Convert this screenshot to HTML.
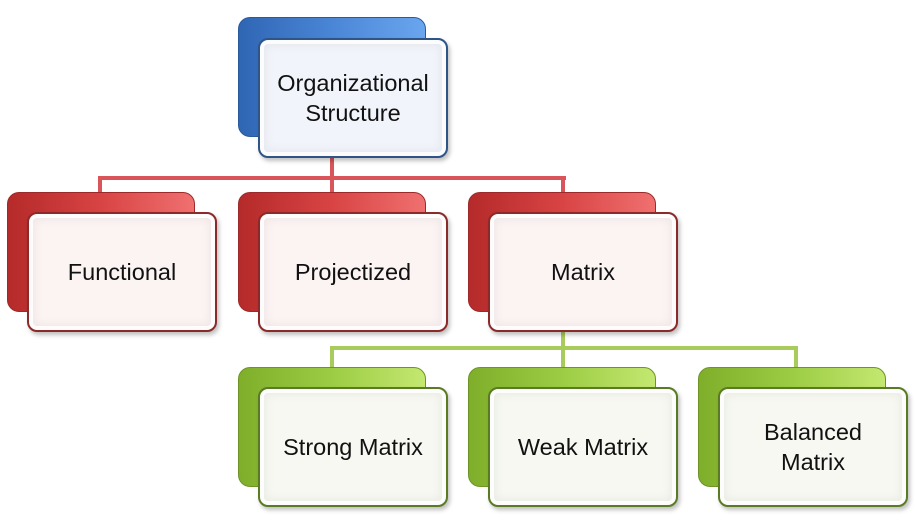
<!DOCTYPE html>
<html><head><style>
body{margin:0;width:916px;height:524px;background:#fff;position:relative;overflow:hidden;font-family:"Liberation Sans",sans-serif}
.b{position:absolute;width:188px;height:120px;border-radius:12px;box-sizing:border-box}
.f{position:absolute;width:190px;height:120px;border-radius:10px;box-sizing:border-box;display:flex;align-items:center;justify-content:center;text-align:center;font-size:23.5px;line-height:30px;color:#111;box-shadow:inset 0 0 0 4px rgba(255,255,255,.85),inset 0 0 10px 5px rgba(0,0,0,.06),2px 3px 4px rgba(0,0,0,.25)}
.blue{background:linear-gradient(90deg,#2f66b4,#4a86d6 50%,#6aa6ee);border:1.5px solid #2a5a9c}
.red{background:linear-gradient(90deg,#b52a2a,#d84444 50%,#f07070);border:1.5px solid #9c2a2a}
.green{background:linear-gradient(90deg,#7fae2a,#9ccc44 50%,#c4e870);border:1.5px solid #6e9428}
.fb{background:#f1f4fa;border:2px solid #2e5488}
.fr{background:#fcf3f3;border:2px solid #8c2a2a}
.fg{background:#f6f8f1;border:2px solid #5a7a24}
.l{position:absolute}
.lr{background:#d9555a}.lg{background:#a8cc5c}
</style></head><body>
<div class="l lr" style="left:330px;top:150px;width:4px;height:30px"></div>
<div class="l lr" style="left:98px;top:176px;width:468px;height:4px"></div>
<div class="l lr" style="left:98px;top:176px;width:4px;height:18px"></div>
<div class="l lr" style="left:330px;top:176px;width:4px;height:18px"></div>
<div class="l lr" style="left:561px;top:176px;width:4px;height:18px"></div>
<div class="l lg" style="left:561px;top:325px;width:4px;height:25px"></div>
<div class="l lg" style="left:330px;top:346px;width:468px;height:4px"></div>
<div class="l lg" style="left:330px;top:346px;width:4px;height:22px"></div>
<div class="l lg" style="left:561px;top:346px;width:4px;height:22px"></div>
<div class="l lg" style="left:794px;top:346px;width:4px;height:22px"></div>

<div class="b blue" style="left:238px;top:17px"></div>
<div class="f fb" style="left:258px;top:38px">Organizational<br>Structure</div>

<div class="b red" style="left:7px;top:192px"></div>
<div class="f fr" style="left:27px;top:212px">Functional</div>
<div class="b red" style="left:238px;top:192px"></div>
<div class="f fr" style="left:258px;top:212px">Projectized</div>
<div class="b red" style="left:468px;top:192px"></div>
<div class="f fr" style="left:488px;top:212px">Matrix</div>

<div class="b green" style="left:238px;top:367px"></div>
<div class="f fg" style="left:258px;top:387px">Strong Matrix</div>
<div class="b green" style="left:468px;top:367px"></div>
<div class="f fg" style="left:488px;top:387px">Weak Matrix</div>
<div class="b green" style="left:698px;top:367px"></div>
<div class="f fg" style="left:718px;top:387px">Balanced<br>Matrix</div>
</body></html>
